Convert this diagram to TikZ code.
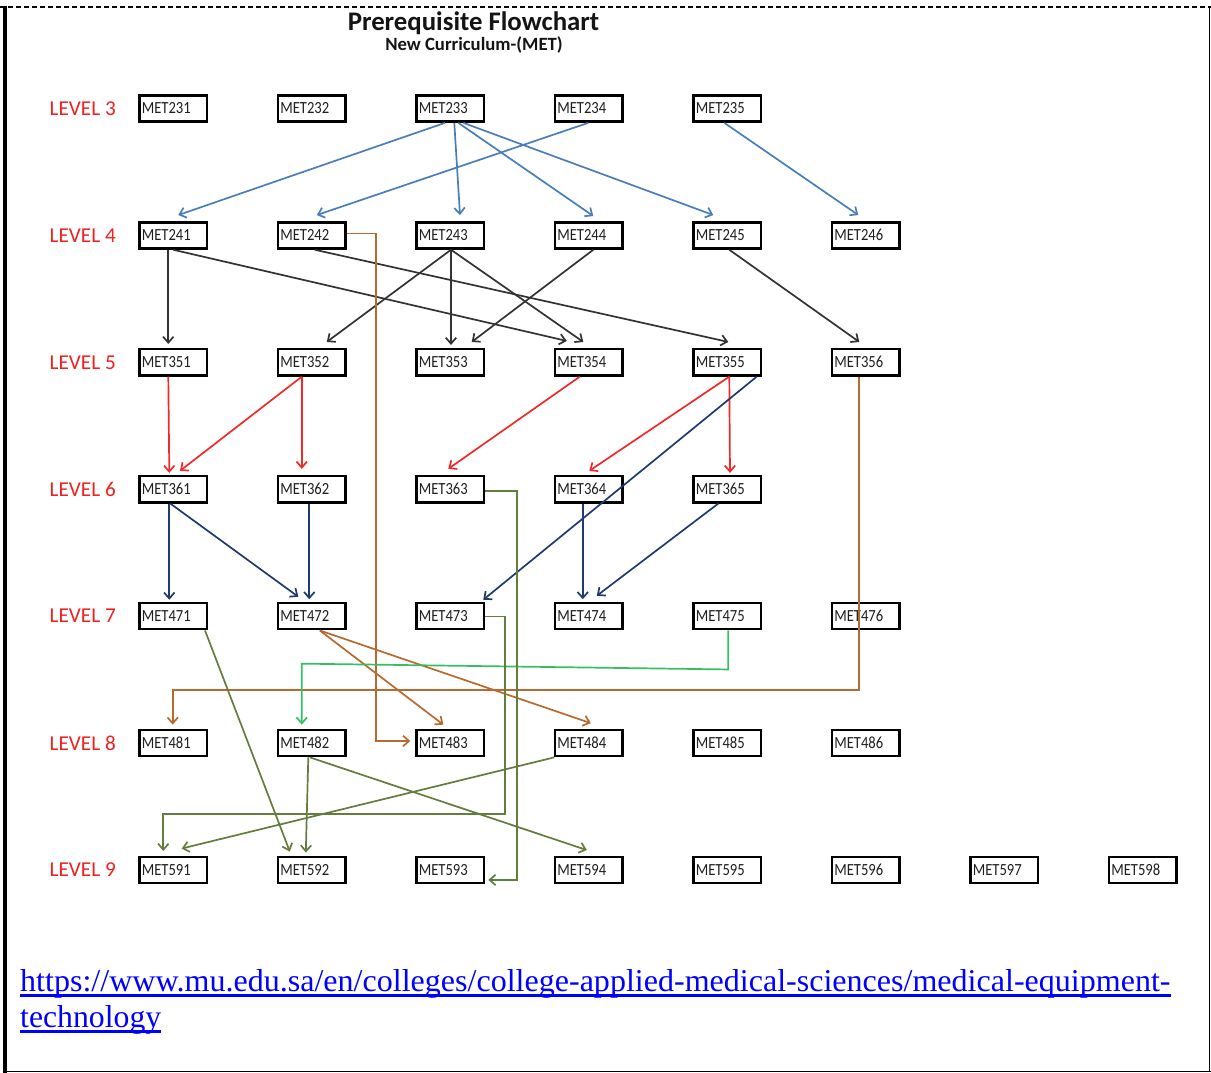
\documentclass[tikz,border=0pt]{standalone}
\usepackage{fontspec}
\usepackage{graphicx}
\usetikzlibrary{arrows.meta,calc}
\newfontfamily\boxfont[FakeStretch=0.86]{Carlito}
\newfontfamily\calfont{Carlito}
\newfontfamily\urlfont{Liberation Serif}
\definecolor{cblue}{HTML}{4A7EBB}
\definecolor{cblack}{HTML}{333333}
\definecolor{cred}{HTML}{F02A2A}
\definecolor{cnavy}{HTML}{1F3A6E}
\definecolor{cbrown}{HTML}{B8692E}
\definecolor{cgreen}{HTML}{35BE62}
\definecolor{colive}{HTML}{637D3C}
\definecolor{clevel}{HTML}{F02020}
\definecolor{urlblue}{HTML}{0000FF}
\tikzset{
  course/.style={draw=black, line width=2.5pt, minimum width=67.5pt, minimum height=26.2pt,
    inner xsep=2.2pt, inner ysep=0pt, text width=63.1pt, align=left, text=black!88,
    font={\boxfont\fontsize{17}{19}\selectfont}, text height=10.9pt, text depth=0pt},
  lvl/.style={anchor=west, inner sep=0pt, text=clevel, font={\calfont\fontsize{21.2}{25}\selectfont}},
  edge/.style={line width=1.7pt, -{Straight Barb[length=6pt,width=10.5pt]}},
  eblue/.style={edge, draw=cblue},
  eblack/.style={edge, draw=cblack},
  ered/.style={edge, draw=cred},
  enavy/.style={edge, draw=cnavy},
  ebrown/.style={edge, draw=cbrown},
  egreen/.style={edge, draw=cgreen},
  eolive/.style={edge, draw=colive},
}
\begin{document}
\begin{tikzpicture}[x=1pt,y=-1pt]
\useasboundingbox (0,0) rectangle (1211,1073);
% frame
\draw[line width=1.2pt, dash pattern=on 5pt off 3pt] (0,7) -- (1211,7);
\draw[line width=4pt] (5.3,6) -- (5.3,1073);
\draw[line width=1.3pt] (1209.7,7) -- (1209.7,1071.5);
\draw[line width=1.5pt] (5.3,1071.5) -- (1211,1071.5);
% title
\node[anchor=base, inner sep=0pt, text=black!92, font={\calfont\bfseries\fontsize{26.8}{30}\selectfont}] (title) at (473.5,31) {Prerequisite Flowchart};
\node[anchor=base, inner sep=0pt, text=black!92, font={\calfont\bfseries\fontsize{18.7}{22}\selectfont}] (subtitle) at (474,50.5) {New Curriculum-(MET)};
% nodes
\foreach \lv/\pre/\cnt in {3/23/5,4/24/6,5/35/6,6/36/5,7/47/6,8/48/6,9/59/8} {
  \node[lvl] (lvl\lv) at (49.5, {108.5+126.9*(\lv-3)}) {LEVEL \lv};
  \foreach \i in {1,...,\cnt} {
    \node[course] (n\pre\i) at ({173.3+138.5*(\i-1)}, {108.5+126.9*(\lv-3)}) {MET\pre\i};
  }
}
% blue
\draw[eblue] ($(n233.south)+(-5.3,0)$) -- ($(n241.north)+(5,-6)$);
\draw[eblue] ($(n233.south)+(4,0)$) -- ($(n243.north)+(9.7,-6)$);
\draw[eblue] ($(n233.south)+(8,0)$) -- ($(n244.north)+(4.5,-5)$);
\draw[eblue] ($(n233.south)+(13,0)$) -- ($(n245.north)+(-14,-6)$);
\draw[eblue] ($(n234.south)+(-0.5,0)$) -- ($(n242.north)+(5,-6)$);
\draw[eblue] ($(n235.south)+(-3,0)$) -- ($(n246.north)+(-7.5,-6)$);
% black
\draw[eblack] ($(n241.south)+(-5,0)$) -- ($(n351.north)+(-5,-4)$);
\draw[eblack] ($(n241.south)+(0,0)$) -- ($(n354.north)+(-22,-7)$);
\draw[eblack] ($(n242.south)+(3,0)$) -- ($(n355.north)+(1,-6)$);
\draw[eblack] ($(n243.south)+(0.7,0)$) -- ($(n352.north)+(15,-6)$);
\draw[eblack] ($(n243.south)+(0.7,0)$) -- ($(n353.north)+(0.7,-3)$);
\draw[eblack] ($(n243.south)+(0.7,0)$) -- ($(n354.north)+(-5.5,-6)$);
\draw[eblack] ($(n244.south)+(4.5,0)$) -- ($(n353.north)+(21.4,-6)$);
\draw[eblack] ($(n245.south)+(2,0)$) -- ($(n356.north)+(-6.5,-6)$);
% red
\draw[ered] ($(n351.south)+(-5,0)$) -- ($(n361.north)+(-4,-2)$);
\draw[ered] ($(n352.south)+(-10,0)$) -- ($(n361.north)+(6.7,-4)$);
\draw[ered] ($(n352.south)+(-10,0)$) -- ($(n362.north)+(-10,-6)$);
\draw[ered] ($(n354.south)+(-9,0)$) -- ($(n363.north)+(-2,-6)$);
\draw[ered] ($(n355.south)+(2,0)$) -- ($(n364.north)+(0.5,-4)$);
\draw[ered] ($(n355.south)+(2,0)$) -- ($(n365.north)+(2.7,-2)$);
% navy
\draw[enavy] ($(n361.south)+(-4,0)$) -- ($(n471.north)+(-4,-2)$);
\draw[enavy] ($(n361.south)+(-3,0)$) -- ($(n472.north)+(-13.5,-5)$);
\draw[enavy] ($(n362.south)+(-2.5,0)$) -- ($(n472.north)+(-2.5,-2.5)$);
\draw[enavy] ($(n355.south)+(29.4,0)$) -- ($(n473.north)+(33,-2)$);
\draw[enavy] ($(n364.south)+(-6,0)$) -- ($(n474.north)+(-6,-2.5)$);
\draw[enavy] ($(n365.south)+(-9,0)$) -- ($(n474.north)+(8,-6)$);
% brown
\draw[ebrown] ($(n242.east)+(0,-2)$) -| ($(n483.west)+(-39.3,-2)$) -- ($(n483.west)+(-5,-2)$);
\draw[ebrown] ($(n356.south)+(-6.5,0)$) |- ($(n481.north)+(-0.6,-38.9)$) -- ($(n481.north)+(-0.6,-4)$);
\draw[ebrown] ($(n472.south)+(8,0)$) -- ($(n483.north)+(-7,-4)$);
\draw[ebrown] ($(n472.south)+(8,0)$) -- ($(n484.north)+(2,-5.5)$);
% green
\draw[egreen] ($(n475.south)+(1,0)$) -- ($(n475.south)+(1,39)$) -- ($(n482.north)+(-10,-65)$) -- ($(n482.north)+(-10,-4)$);
% olive
\draw[eolive] ($(n363.east)+(0,1.5)$) -| ($(n593.east)+(31.4,10)$) -- ($(n593.east)+(3,10)$);
\draw[eolive] ($(n473.east)+(0,0.5)$) -| ($(n591.north)+(331.7,-41.4)$) -| ($(n591.north)+(-10,-4.6)$);
\draw[eolive] ($(n471.south)+(31.7,0)$) -- ($(n592.north)+(-22,-4)$);
\draw[eolive] ($(n482.south)+(-3.5,0)$) -- ($(n592.north)+(-6,-3)$);
\draw[eolive] ($(n482.south)+(-2,0)$) -- ($(n594.north)+(-2,-5.5)$);
\draw[eolive] ($(n484.south west)+(0.5,0)$) -- ($(n591.north)+(8.4,-7)$);
% url
\node[anchor=base west, inner sep=0pt, text=urlblue] (url1) at (20,991) {\resizebox{1150pt}{22pt}{\urlfont https://www.mu.edu.sa/en/colleges/college-applied-medical-sciences/medical-equipment-}};
\node[anchor=base west, inner sep=0pt, text=urlblue] (url2) at (20,1027) {\resizebox{141pt}{22pt}{\urlfont technology}};
\draw[urlblue, line width=2.4pt] ($(url1.base west)+(0,4.5)$) -- ($(url1.base east)+(0,4.5)$);
\draw[urlblue, line width=2.4pt] ($(url2.base west)+(0,4.5)$) -- ($(url2.base east)+(0,4.5)$);
\end{tikzpicture}
\end{document}
